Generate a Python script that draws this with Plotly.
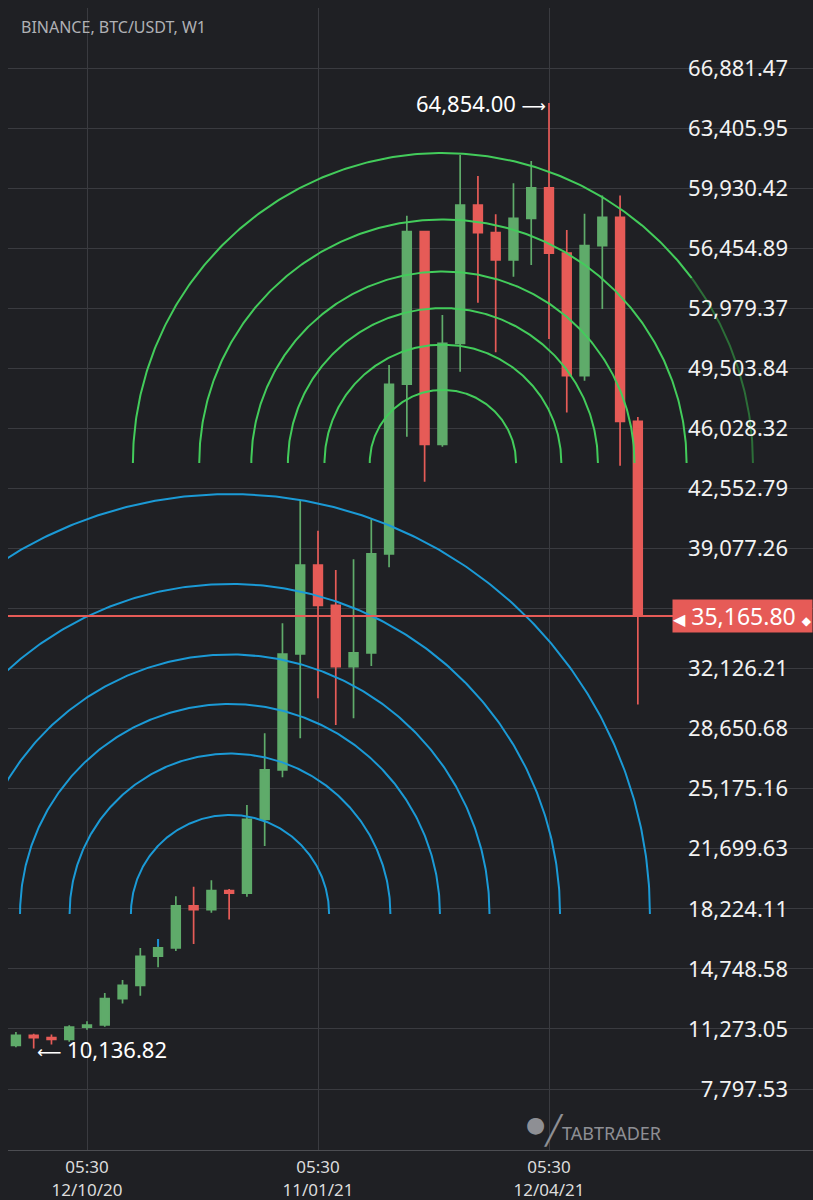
import numpy as np
import pandas as pd
import plotly.graph_objects as go

# ---------------- data ----------------
weeks = pd.date_range("2020-09-14", periods=36, freq="7D")
open_ = [10320, 10900, 10770, 10670, 11380, 11500, 13030, 13800, 15480, 15960,
         18400, 18180, 19280, 19130, 23400, 26260, 32970, 38120, 35780, 32240,
         33040, 38760, 48580, 57410, 45100, 50950, 58950, 57350, 55770, 58180,
         59950, 56170, 49080, 56600, 58240, 46430]
high = [11100, 10990, 10950, 11490, 11720, 13350, 14100, 15960, 16480, 18950,
        19500, 19880, 19370, 24230, 28380, 34750, 41880, 40110, 37830, 38450,
        40770, 49700, 58330, 57470, 52590, 61850, 60630, 58420, 60210, 61500,
        64854, 57510, 58450, 59500, 59500, 46680]
low = [10210, 10136.82, 10380, 10530, 11220, 11400, 12750, 13200, 14850, 15790,
       16190, 18000, 17600, 18930, 21860, 25840, 28090, 30410, 28860, 29250,
       32280, 37990, 45540, 42940, 44970, 49310, 53300, 50430, 54800, 55480,
       51200, 46950, 48790, 52930, 43870, 30050]
close = [10900, 10770, 10670, 11380, 11500, 13030, 13800, 15480, 15960, 18400,
         18180, 19280, 19130, 23400, 26260, 32970, 38120, 35780, 32240, 33040,
         38760, 48580, 57410, 45100, 50950, 58950, 57350, 55770, 58180, 59950,
         56170, 49080, 56600, 58240, 46430, 35165.80]
blue_wick_week = 8  # candle whose upper wick is drawn blue in the source

current_price = 35165.80
high_mark = ("2021-04-12", 64854.00)
low_mark = ("2020-09-21", 10136.82)

y_tickvals = [7797.53, 11273.05, 14748.58, 18224.11, 21699.63, 25175.16,
              28650.68, 32126.21, 35601.74, 39077.26, 42552.79, 46028.32,
              49503.84, 52979.37, 56454.89, 59930.42, 63405.95, 66881.47]
x_tickvals = ["2020-10-12", "2021-01-11", "2021-04-12"]
x_ticktext = ["05:30<br>12/10/20", "05:30<br>11/01/21", "05:30<br>12/04/21"]

fib_levels = [0.236, 0.382, 0.5, 0.618, 0.786, 1.0]
green_arc_center = ("2021-03-01 05:00", 44020.0)
green_arc_radius = 17940.0
blue_arc_center = ("2020-12-07 08:00", 17925.0)
blue_arc_radius = 24300.0

# ---------------- layout geometry ----------------
W, H = 813, 1200
ML, MR, MT, MB = 8, 0, 8, 50
PW, PH = W - ML - MR, H - MT - MB
days_per_px = 91 / 231.0
x_start = pd.Timestamp("2020-10-12") - pd.to_timedelta(79 * days_per_px, unit="D")
x_end = x_start + pd.to_timedelta(PW * days_per_px, unit="D")
usd_per_px = 3475.526 / 60.059
y_top = 66881.47 + 60 * usd_per_px
y_bot = y_top - PH * usd_per_px
scale_px = 692  # left edge of the price-scale strip (pixels)

BG = "#1f2024"
GREEN = "#5fab6a"
RED = "#e65b57"
GRID = "#3a3b40"


def px_x(px):
    return (px - ML) / PW


def px_y(py):
    return 1 - (py - MT) / PH


fig = go.Figure()
fig.add_trace(go.Candlestick(
    x=weeks, open=open_, high=high, low=low, close=close,
    increasing=dict(line=dict(color=GREEN, width=1.7), fillcolor=GREEN),
    decreasing=dict(line=dict(color=RED, width=1.7), fillcolor=RED),
    whiskerwidth=0, hoverinfo="skip", showlegend=False,
))
bw = blue_wick_week
fig.add_trace(go.Scatter(
    x=[weeks[bw], weeks[bw]],
    y=[high[bw], high[bw] - (high[bw] - max(open_[bw], close[bw])) * 0.85],
    mode="lines", line=dict(color="#1b8fd6", width=2),
    hoverinfo="skip", showlegend=False))

x_start_ts = pd.Timestamp(x_start)


def add_arcs(center, radius, color, dim_color):
    cx = pd.Timestamp(center[0])
    cy = center[1]
    t = np.linspace(0, np.pi, 360)
    for lv in fib_levels:
        r = radius * lv
        dx_days = r * np.cos(t) / usd_per_px * days_per_px
        xs = cx + pd.to_timedelta(dx_days, unit="D")
        ys = cy + r * np.sin(t)
        xpix = ML + (xs - x_start_ts) / pd.Timedelta(days=1) / days_per_px
        xpix = np.asarray(xpix, dtype=float)
        inner = xpix <= scale_px
        outer = xpix >= scale_px - 1
        fig.add_trace(go.Scatter(x=xs[inner], y=ys[inner], mode="lines",
                                 line=dict(color=color, width=2),
                                 hoverinfo="skip", showlegend=False))
        if outer.any():
            fig.add_trace(go.Scatter(x=xs[outer], y=ys[outer], mode="lines",
                                     line=dict(color=dim_color, width=2),
                                     hoverinfo="skip", showlegend=False))


add_arcs(green_arc_center, green_arc_radius, "#43cc5b", "#2c6e38")
add_arcs(blue_arc_center, blue_arc_radius, "#1b9ad6", "#155f84")

# current price line
fig.add_shape(type="line", xref="paper", yref="y", x0=0, x1=px_x(674),
              y0=current_price, y1=current_price,
              line=dict(color=RED, width=2), layer="above")

font_main = "Noto Sans, DejaVu Sans, sans-serif"
ann = []
ann.append(dict(xref="paper", yref="paper", x=px_x(19), y=px_y(27),
                xanchor="left", yanchor="middle", showarrow=False,
                text="BINANCE, BTC/USDT, W1",
                font=dict(family=font_main, size=16, color="#b0b1b5")))
ann.append(dict(x=high_mark[0], y=high_mark[1], xref="x", yref="y",
                xanchor="right", yanchor="middle", xshift=-1, showarrow=False,
                text=f"{high_mark[1]:,.2f} <span style='font-size:17px'>⟶</span>",
                font=dict(family=font_main, size=22, color="#ffffff")))
ann.append(dict(x=low_mark[0], y=low_mark[1], xref="x", yref="y",
                xanchor="left", yanchor="middle", xshift=1, showarrow=False,
                text=f"<span style='font-size:17px'>⟵</span> {low_mark[1]:,.2f}",
                font=dict(family=font_main, size=22, color="#ffffff")))
ann.append(dict(xref="paper", yref="y", x=1, y=current_price,
                xanchor="right", yanchor="middle", showarrow=False,
                text=(f"<span style='font-size:16px'>◀</span> {current_price:,.2f} "
                      "<span style='font-size:12px'>◆</span>"),
                bgcolor=RED, borderpad=0,
                font=dict(family=font_main, size=23, color="#ffffff")))
# watermark logo
ann.append(dict(xref="paper", yref="paper", x=px_x(524), y=px_y(1128),
                xanchor="left", yanchor="middle", showarrow=False,
                text=("<sup><span style='font-size:22px'>●</span></sup>"
                      "<span style='font-size:28px'>╱</span>TABTRADER"),
                font=dict(family=font_main, size=18, color="#8e8f94")))

fig.update_layout(
    width=W, height=H,
    margin=dict(l=ML, r=MR, t=MT, b=MB, autoexpand=False),
    paper_bgcolor=BG, plot_bgcolor=BG,
    showlegend=False,
    annotations=ann,
    xaxis=dict(type="date", range=[x_start, x_end], rangeslider=dict(visible=False),
               tickvals=x_tickvals, ticktext=x_ticktext, automargin=False,
               showgrid=True, gridcolor=GRID, gridwidth=1,
               showline=True, linecolor="#4c4d52", linewidth=1,
               ticks="", zeroline=False, ticklabelstandoff=2,
               tickfont=dict(family=font_main, size=17, color="#dcdcdc")),
    yaxis=dict(range=[y_bot, y_top], side="right", ticklabelposition="inside",
               tickvals=y_tickvals, tickformat=",.2f", automargin=False,
               showgrid=True, gridcolor=GRID, gridwidth=1, zeroline=False,
               ticks="", ticklabelstandoff=22,
               tickfont=dict(family=font_main, size=22, color="#f2f2f2")),
)

fig.write_html("out.html", config={"displayModeBar": False},
               post_script="document.body.style.margin='0';")
